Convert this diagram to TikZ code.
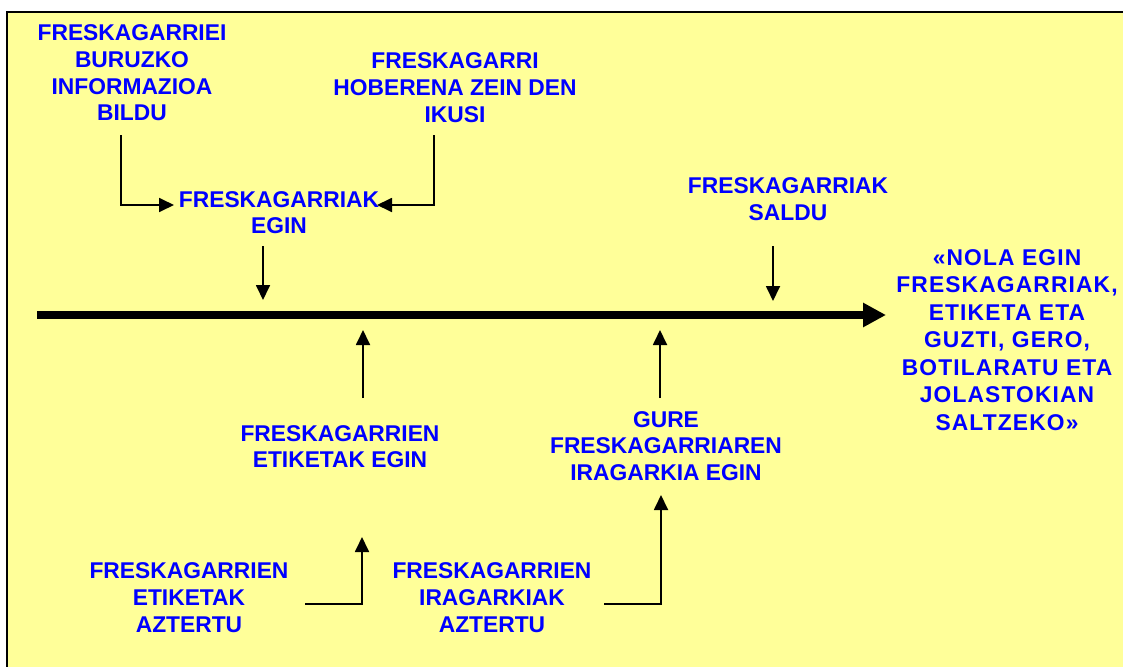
\documentclass[tikz,border=0pt]{standalone}
\usepackage{fontspec}
\setmainfont{Liberation Sans}
\newfontfamily\spacedfont[LetterSpace=5]{Liberation Sans}
\usetikzlibrary{arrows.meta}
\definecolor{bgyellow}{HTML}{FFFF99}
\definecolor{txtblue}{HTML}{0000FF}
\tikzset{
  lbl/.style={text=txtblue, align=center, inner sep=0pt,
    font=\fontsize{22.8}{26.7}\selectfont\bfseries},
  goal/.style={text=txtblue, align=center, inner sep=0pt,
    font=\spacedfont\fontsize{22.8}{27.5}\selectfont\bfseries},
  thinarrow/.style={line width=1.8pt, -{Triangle[length=15pt,width=14pt]}},
  mainarrow/.style={line width=8pt, -{Triangle[length=23pt,width=23pt]}},
  frameline/.style={line width=2.5pt, black}
}
\begin{document}
\begin{tikzpicture}[x=1pt,y=-1pt]
\useasboundingbox (0,0) rectangle (1123,666);
\fill[bgyellow] (7,12) rectangle (1130,670);
\draw[frameline] (7,670) -- (7,12) -- (1130,12);

\node[lbl] (A) at (132,73) {FRESKAGARRIEI\\BURUZKO\\INFORMAZIOA\\BILDU};
\node[lbl] (B) at (455,87.5) {FRESKAGARRI\\HOBERENA ZEIN DEN\\IKUSI};
\node[lbl] (C) at (279,212.5) {FRESKAGARRIAK\\EGIN};
\node[lbl] (D) at (788,199) {FRESKAGARRIAK\\SALDU};
\node[goal] (E) at (1007,340) {«NOLA EGIN\\FRESKAGARRIAK,\\ETIKETA ETA\\GUZTI, GERO,\\BOTILARATU ETA\\JOLASTOKIAN\\SALTZEKO»};
\node[lbl] (F) at (340,446.5) {FRESKAGARRIEN\\ETIKETAK EGIN};
\node[lbl] (G) at (666,446) {GURE\\FRESKAGARRIAREN\\IRAGARKIA EGIN};
\node[lbl] (H) at (189,597.5) {FRESKAGARRIEN\\ETIKETAK\\AZTERTU};
\node[lbl] (I) at (492,597.5) {FRESKAGARRIEN\\IRAGARKIAK\\AZTERTU};

% main timeline
\coordinate (mS) at (37,315);
\coordinate (mE) at (886,315);
\draw[mainarrow] (mS) -- (mE);

% A, B -> C
\coordinate (a0) at (121,135);
\coordinate (a1) at (174,205);
\coordinate (b0) at (434,135);
\coordinate (b1) at (377,205);
\draw[thinarrow] (a0) |- (a1);
\draw[thinarrow] (b0) |- (b1);

% C, D -> main line
\coordinate (c0) at (263,246);
\coordinate (c1) at (263,300);
\coordinate (d0) at (773,246);
\coordinate (d1) at (773,301);
\draw[thinarrow] (c0) -- (c1);
\draw[thinarrow] (d0) -- (d1);

% F, G -> main line
\coordinate (f0) at (363,398);
\coordinate (f1) at (363,330);
\coordinate (g0) at (660,398);
\coordinate (g1) at (660,330);
\draw[thinarrow] (f0) -- (f1);
\draw[thinarrow] (g0) -- (g1);

% H -> F, I -> G
\coordinate (h0) at (305,604);
\coordinate (h1) at (362,537);
\coordinate (i0) at (604,604);
\coordinate (i1) at (661,495);
\draw[thinarrow] (h0) -| (h1);
\draw[thinarrow] (i0) -| (i1);
\end{tikzpicture}
\end{document}
